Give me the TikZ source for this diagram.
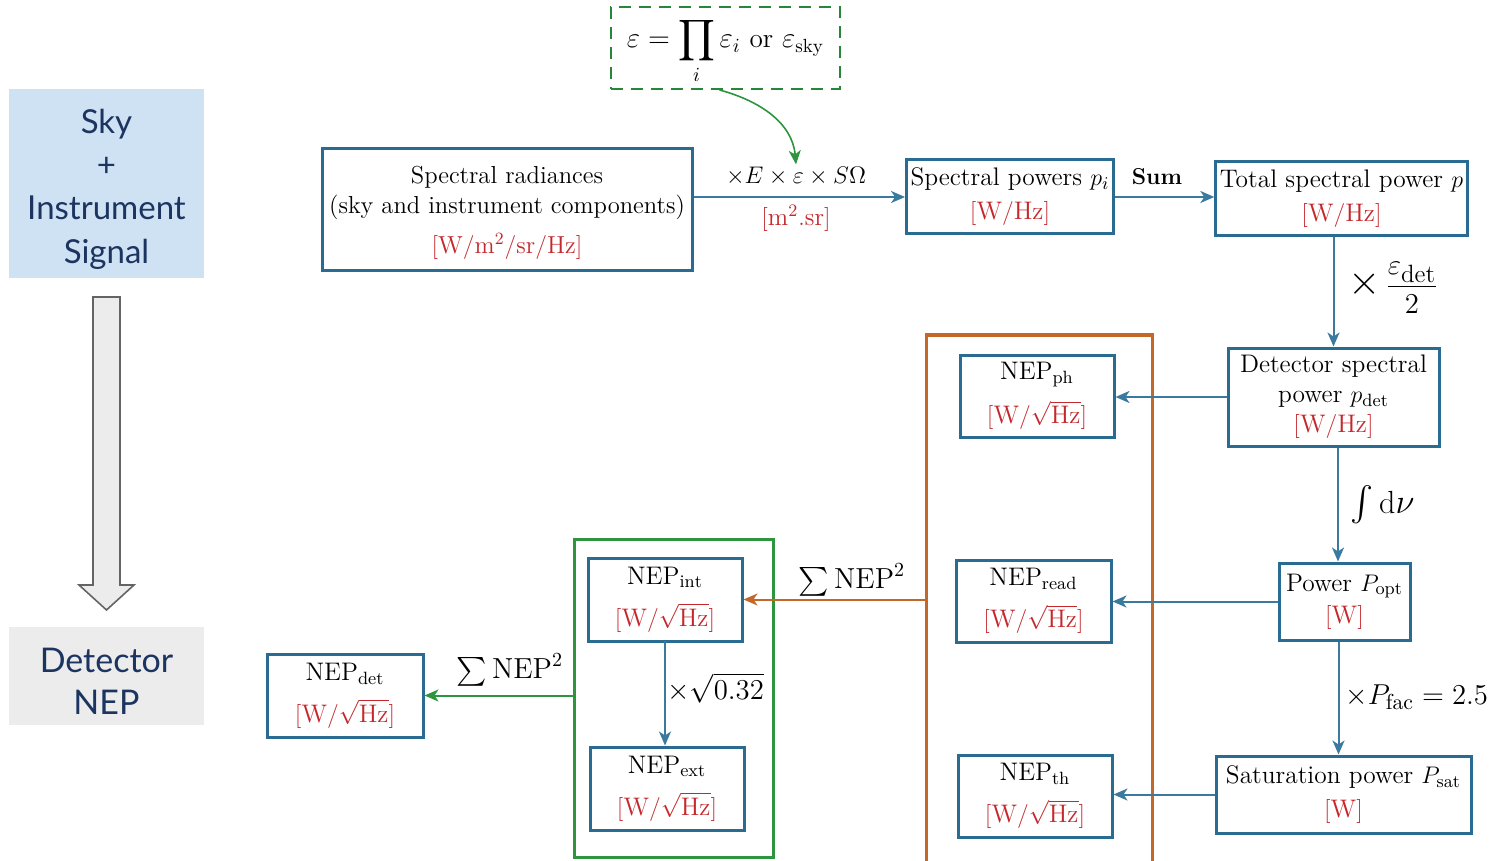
\documentclass[tikz,border=0pt]{standalone}
\usepackage{fontspec}
\usepackage{amsmath}
\newfontfamily\gillfont{Lato}
\usetikzlibrary{arrows.meta,calc}
\definecolor{boxblue}{RGB}{42,108,145}
\definecolor{arrblue}{RGB}{58,122,158}
\definecolor{unitred}{RGB}{196,40,44}
\definecolor{orangeb}{RGB}{196,104,42}
\definecolor{greenb}{RGB}{46,148,62}
\definecolor{skyfill}{RGB}{207,226,243}
\definecolor{navy}{RGB}{28,52,96}
\definecolor{grayfill}{RGB}{236,236,236}
\definecolor{arrowgray}{RGB}{100,100,100}
\newcommand{\myunit}[1]{\textcolor{unitred}{$[\mathrm{#1}]$}}
\newcommand{\squnit}{\textcolor{unitred}{$[\mathrm{W}/\sqrt{\mathrm{Hz}}]$}}
\begin{document}
\begin{tikzpicture}[x=0.5pt,y=-0.5pt,
  box/.style={draw=boxblue, line width=1.5pt, fill=white, align=center, inner sep=2pt, font=\fontsize{12.7}{15}\selectfont},
  boxtext/.style={align=center, inner sep=0pt, font=\fontsize{12.3}{15}\selectfont},
  paneltext/.style={align=center, inner sep=0pt, text=navy, font=\gillfont\fontsize{16.5}{21.7}\selectfont},
  arr/.style={draw=arrblue, line width=1pt, -{Stealth[length=7pt,width=6pt,inset=2pt]}},
  lab/.style={font=\fontsize{12.5}{15}\selectfont, inner sep=1pt},
  group/.style={line width=1.5pt}
]
\useasboundingbox (0,0) rectangle (1510,861);

% left panel
\node[fill=skyfill, minimum width=97.5pt, minimum height=94.5pt,
  label={[paneltext, yshift=-2.75pt]center:{Sky\\+\\Instrument\\Signal}}] (sky) at (106.5,183.5) {};
\node[fill=grayfill, minimum width=97.5pt, minimum height=49pt,
  label={[paneltext, yshift=-2.5pt, font=\gillfont\fontsize{17}{21}\selectfont]center:{Detector\\NEP}}] (detnep) at (106.5,676) {};
\draw[arrowgray, fill=grayfill, line width=0.8pt] (93,297) -- (120,297) -- (120,585) -- (134,585) -- (106.5,610) -- (79,585) -- (93,585) -- cycle;

% group boxes
\node[draw=orangeb, group, minimum width=113pt, minimum height=272.5pt] (orange) at (1039,607.5) {};
\node[draw=greenb, group, minimum width=99.5pt, minimum height=159pt] (green) at (673.5,698) {};

% epsilon box
\node[draw=greenb!90!black, line width=1pt, dash pattern=on 6pt off 4pt, inner sep=0pt, minimum width=114.5pt, minimum height=41pt,
  label={[inner sep=0pt, yshift=-1.5pt, font=\fontsize{13.6}{16}\selectfont]center:{$\varepsilon = \displaystyle\prod_i \varepsilon_i \text{ or } \varepsilon_{\mathrm{sky}}$}}] (eps) at (725.5,48) {};

% main boxes
\node[box, minimum width=185pt, minimum height=61pt,
  label={[boxtext, yshift=-1.25pt]center:{Spectral radiances\\(sky and instrument components)\\[5pt]\myunit{W/m^2/sr/Hz}}}] (rad) at (507,210) {};
\node[box, minimum width=102pt, minimum height=37pt] (sp) at (1010,197)
  {Spectral powers $p_i$\\[2pt]\myunit{W/Hz}};
\node[box, minimum width=124.5pt, minimum height=37pt] (tot) at (1341.5,199)
  {Total spectral power $p$\\[2pt]\myunit{W/Hz}};
\node[box, minimum width=105.5pt, minimum height=49pt] (det) at (1333.5,397)
  {Detector spectral\\power $p_{\mathrm{det}}$\\\myunit{W/Hz}};
\node[box, minimum width=65.5pt, minimum height=38.5pt] (popt) at (1344.5,601.5)
  {Power $P_{\mathrm{opt}}$\\[1pt]\myunit{W}};
\node[box, minimum width=127.5pt, minimum height=38.5pt] (sat) at (1343.5,794.5)
  {Saturation power $P_{\mathrm{sat}}$\\[2pt]\myunit{W}};

\node[box, minimum width=77pt, minimum height=41pt] (ph) at (1037,396)
  {NEP$_{\mathrm{ph}}$\\[6pt]\squnit};
\node[box, minimum width=77.5pt, minimum height=41pt] (read) at (1033.5,601)
  {NEP$_{\mathrm{read}}$\\[6pt]\squnit};
\node[box, minimum width=77pt, minimum height=41pt] (th) at (1035,796)
  {NEP$_{\mathrm{th}}$\\[6pt]\squnit};
\node[box, minimum width=77pt, minimum height=41.5pt] (int) at (665,599.5)
  {NEP$_{\mathrm{int}}$\\[6pt]\squnit};
\node[box, minimum width=77pt, minimum height=41.5pt] (ext) at (667,788.5)
  {NEP$_{\mathrm{ext}}$\\[6pt]\squnit};
\node[box, minimum width=78pt, minimum height=41.5pt] (ndet) at (345,695.5)
  {NEP$_{\mathrm{det}}$\\[6pt]\squnit};

% labels
\node[lab] (l1) at (796,176) {$\times E\times\varepsilon\times S\Omega$};
\node[lab] (l1b) at (796,218) {\myunit{m^2.sr}};
\node[lab, font=\fontsize{11.5}{14}\selectfont] (lsum) at (1157,177) {\textbf{Sum}};
\node[lab, anchor=west, font=\fontsize{13.5}{16}\selectfont] (lfrac) at (1346,288)
  {$\text{\fontsize{20}{20}\selectfont$\times$}\,\dfrac{\varepsilon_{\text{\fontsize{12.5}{12.5}\selectfont det}}}{2}$};
\node[lab, anchor=west, font=\fontsize{16}{18}\selectfont] (lint) at (1348,505) {$\int \mathrm{d}\nu$};
\node[lab, anchor=west, font=\fontsize{15.5}{18}\selectfont] (lpfac) at (1343,697) {$\times P_{\mathrm{fac}} = 2.5$};
\node[lab, font=\fontsize{14.5}{17}\selectfont] (lsum1) at (852,580) {$\sum \mathrm{NEP}^2$};
\node[lab, font=\fontsize{14.5}{17}\selectfont] (lsum2) at (510,670) {$\sum \mathrm{NEP}^2$};
\node[lab, anchor=west, font=\fontsize{15.5}{17}\selectfont] (lsq) at (665,688) {$\times\sqrt{0.32}$};

% connectors
\draw[arr] (rad.east |- sp) -- (sp.west);
\draw[arr] (sp.east) -- (sp.east -| tot.west);
\draw[arr] (det.north |- tot.south) -- (det.north);
\draw[arr] (det.west) -- (det.west -| ph.east);
\draw[arr] ([xshift=2.25pt]det.south) -- ([xshift=2.25pt]det.south |- popt.north);
\draw[arr] (popt.west) -- (popt.west -| read.east);
\draw[arr] ([xshift=-3pt]popt.south) -- ([xshift=-3pt]popt.south |- sat.north);
\draw[arr] (sat.west) -- (sat.west -| th.east);
\draw[arr] ([yshift=1pt]int.south) -- (ext.north -| int.south);
\draw[arr, draw=orangeb] (orange.west |- int.east) -- (int.east);
\draw[arr, draw=greenb] (green.west |- ndet.east) -- (ndet.east);
\draw[arr, draw=greenb, line width=0.8pt] ([xshift=-3pt]eps.south) to[out=-15, in=95] (l1.north);
\end{tikzpicture}
\end{document}
